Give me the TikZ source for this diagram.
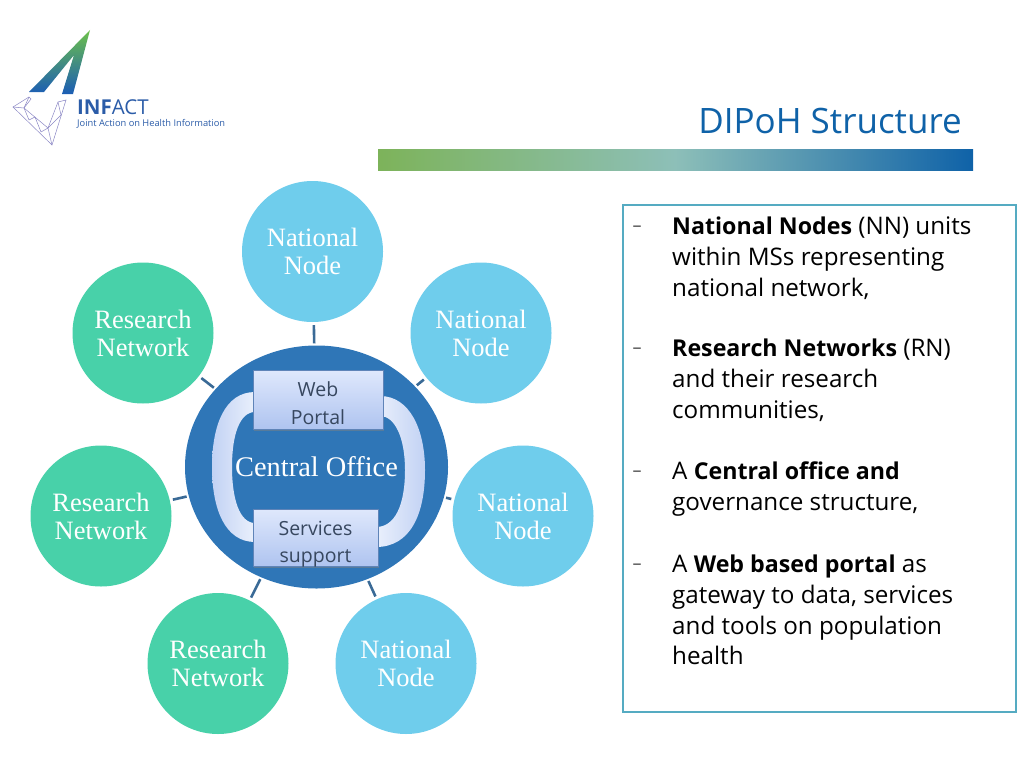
\documentclass[tikz,border=0pt]{standalone}
\usepackage{fontspec}
\setmainfont{Open Sans}
\newfontfamily\serifnode{Liberation Serif}
\usepackage{xcolor}
\usetikzlibrary{shapes.geometric}
\usetikzlibrary{shadows}
\definecolor{nodeblue}{HTML}{6FCDEC}
\definecolor{nodegreen}{HTML}{48D1A9}
\definecolor{officeblue}{HTML}{2F76B7}
\definecolor{spokeblue}{HTML}{3A6A96}
\definecolor{panelteal}{HTML}{55ABC2}
\definecolor{titleblue}{HTML}{0F62A8}
\definecolor{logoblue}{HTML}{2B5CA8}
\definecolor{meshviolet}{HTML}{8A86C4}
\definecolor{boxtop}{HTML}{DFE8FC}
\definecolor{boxbottom}{HTML}{AFC4F0}
\definecolor{boxline}{HTML}{5F84B8}
\definecolor{boxtext}{HTML}{37475F}
\definecolor{ringdark}{HTML}{C2D2F4}
\definecolor{ringlight}{HTML}{EAF0FC}
\definecolor{barleft}{HTML}{7DB35A}
\definecolor{barmid}{HTML}{8DBFB8}
\definecolor{logotop}{HTML}{6CC04A}
\definecolor{logomid}{HTML}{4FBFB0}
\definecolor{logobottom}{HTML}{1B5DB5}
\newcommand{\keyterm}[1]{{\fontsize{23.2}{30.7}\selectfont\textbf{#1}}}
\begin{document}
\begin{tikzpicture}[
        x=1pt, y=-1pt,
        national/.style={circle, fill=nodeblue, minimum size=141pt, inner sep=0pt, text=white, align=center, font=\serifnode\fontsize{26.5}{28}\selectfont},
        research/.style={national, fill=nodegreen},
        office/.style={ellipse, fill=officeblue, minimum width=263pt, minimum height=243pt, inner sep=0pt, text=white, font=\serifnode\fontsize{28.4}{31}\selectfont},
        spoke/.style={line width=2.6pt, draw=spokeblue, shorten >=3pt, shorten <=2pt},
        linkbox/.style={rectangle, draw=boxline, line width=0.7pt, top color=boxtop, bottom color=boxbottom, inner sep=0pt, drop shadow={shadow xshift=0.8pt, shadow yshift=-1.5pt, fill=black!50}},
        linklabel/.style={inner sep=0pt, align=center, text=boxtext, font=\fontsize{19.5}{27.5}\selectfont},
        bodytext/.style={anchor=north west, inner sep=0pt, align=left, font=\fontsize{24.2}{30.7}\selectfont},
        dashmark/.style={anchor=center, inner sep=0pt, text=black!70, font=\fontsize{18}{24}\selectfont},
        mesh/.style={draw=meshviolet, line width=0.5pt}
    ]
    \useasboundingbox (0,0) rectangle (1024,768);

    % Logo
    \path[top color=logotop, middle color=logomid, bottom color=logobottom]
        (90,30) -- (29,92) -- (44,92) -- (74,55) -- (62,94) -- (73,94) -- cycle;
    \draw[mesh] (13,107) -- (29,97) -- (31,99) -- (24,108) -- (48,128) -- (58,102) -- (66,100) -- (52,145) -- cycle;
    \draw[mesh] (24,108) -- (13,107) (24,108) -- (29,120) (29,120) -- (35,117) (35,117) -- (41,132) (41,132) -- (48,128)
        (48,128) -- (52,145) (48,128) -- (61,115) (58,102) -- (61,115) (29,97) -- (24,108);
    \node[anchor=west, inner sep=0pt, text=logoblue, font=\fontsize{20.5}{22}\selectfont] (logoname) at (77,107) {\textbf{INF}ACT};
    \node[anchor=west, inner sep=0pt, text=logoblue, font=\fontsize{9.3}{10}\selectfont] (logotag) at (77,124) {Joint Action on Health Information};

    % Title
    \node[anchor=east, inner sep=0pt, text=titleblue, font=\fontsize{35}{38}\selectfont] (title) at (962,121) {DIPoH Structure};
    \path[left color=barleft, right color=barmid] (378,149) rectangle (675,170);
    \path[left color=barmid, right color=titleblue] (675,149) rectangle (973,170);

    % Central Office
    \node[office] (centre) at (316.5,467) {Central Office};
    \path[left color=ringdark, right color=ringlight] (255,392) .. controls (225,392) and (212,425) .. (212,467) .. controls (212,509) and (225,542) .. (255,542)
        -- (255,523) .. controls (240,523) and (232,500) .. (232,467) .. controls (232,434) and (240,412) .. (255,412) -- cycle;
    \path[left color=ringlight, right color=ringdark] (380,396) .. controls (410,396) and (425,430) .. (425,470) .. controls (425,515) and (410,547) .. (376,547)
        -- (376,527) .. controls (395,527) and (405,505) .. (405,470) .. controls (405,438) and (395,416) .. (380,416) -- cycle;
    \node[linkbox, minimum width=130pt, minimum height=59pt] (portal) at (318,399.5) {};
    \node[linklabel] (portaltext) at (318,403) {Web\\Portal};
    \node[linkbox, minimum width=125pt, minimum height=57pt] (services) at (315.5,537.5) {};
    \node[linklabel] (servicestext) at (315.5,544) {Services\\support};

    % Nodos exteriores
    \node[national] (NN1) at (312.5,251.5) {National\\Node};
    \node[national] (NN2) at (481,333) {National\\Node};
    \node[national] (NN3) at (523,516) {National\\Node};
    \node[national] (NN4) at (406,663.5) {National\\Node};
    \node[research] (RN1) at (218,663.5) {Research\\Network};
    \node[research] (RN2) at (101,516) {Research\\Network};
    \node[research] (RN3) at (143,333) {Research\\Network};

    % Conexiones
    \foreach \outer in {NN1,NN2,NN3,NN4,RN1,RN2,RN3}
        \draw[spoke] (centre) -- (\outer);

    % Texto
    \draw[draw=panelteal, line width=2.6pt, fill=white] (623,205) rectangle (1016,712);
    \node[dashmark] (dash1) at (637,229) {--};
    \node[bodytext] (text1) at (672,217) {\keyterm{National Nodes} (NN) units\\within MSs representing\\national network,};
    \node[dashmark] (dash2) at (637,351) {--};
    \node[bodytext] (text2) at (672,339) {\keyterm{Research Networks} (RN)\\and their research\\communities,};
    \node[dashmark] (dash3) at (637,474) {--};
    \node[bodytext] (text3) at (672,462) {A \keyterm{Central office and}\\governance structure,};
    \node[dashmark] (dash4) at (637,567) {--};
    \node[bodytext] (text4) at (672,555) {A \keyterm{Web based portal} as\\gateway to data, services\\and tools on population\\health};

\end{tikzpicture}
\end{document}
